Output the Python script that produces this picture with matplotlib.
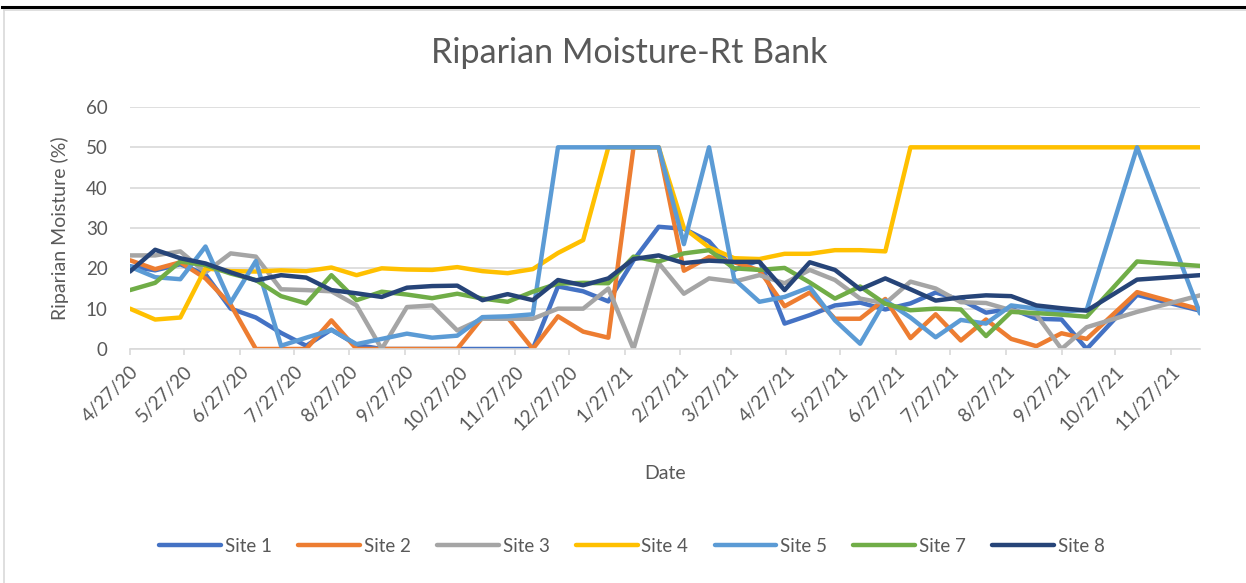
import matplotlib
matplotlib.use("Agg")
import matplotlib.pyplot as plt
from matplotlib.lines import Line2D
import pandas as pd

# sample dates
dates = pd.to_datetime([
    "2020-04-27", "2020-05-11", "2020-05-25", "2020-06-08", "2020-06-22",
    "2020-07-06", "2020-07-20", "2020-08-03", "2020-08-17", "2020-08-31",
    "2020-09-14", "2020-09-28", "2020-10-12", "2020-10-26", "2020-11-09",
    "2020-11-23", "2020-12-07", "2020-12-21", "2021-01-04", "2021-01-18",
    "2021-02-01", "2021-02-15", "2021-03-01", "2021-03-15", "2021-03-29",
    "2021-04-12", "2021-04-26", "2021-05-10", "2021-05-24", "2021-06-07",
    "2021-06-21", "2021-07-05", "2021-07-19", "2021-08-02", "2021-08-16",
    "2021-08-30", "2021-09-13", "2021-09-27", "2021-10-11", "2021-11-08",
    "2021-12-13",
])

site1 = [20.5, 19.5, 21, 18.5, 10, 7.8, 4, 0.8, 4.8, 1, 0, 0, 0, 0, 0, 0, 0,
         15.5, 14.3, 11.8, 22, 30.3, 29.8, 26.7, 19.6, 22, 6.3, 8.4, 10.8, 11.5,
         9.8, 11.3, 14, 12.2, 9, 10, 7.5, 7.3, 0, 13.4, 9.5]
site2 = [22, 19.8, 21.5, 17.5, 11, 0, 0, 0, 7.1, 0, 0, 0, 0, 0, 7.8, 7.8, 0,
         8.1, 4.3, 2.8, 50, 50, 19.4, 22.8, 21.5, 19.5, 10.6, 14, 7.5, 7.5,
         12.4, 2.7, 8.6, 2.1, 7.3, 2.5, 0.7, 3.9, 2.5, 14.1, 9.8]
site3 = [23.2, 23.2, 24.2, 19, 23.7, 22.9, 14.8, 14.6, 14.3, 10.8, 0, 10.4,
         10.8, 4.6, 7.5, 7.5, 7.5, 10, 10, 15, 0, 21.3, 13.7, 17.5, 16.7, 18.3,
         16.3, 19.6, 17.1, 12.5, 11.3, 16.7, 15, 11.6, 11.4, 9.6, 8.5, 0, 5.4,
         9.2, 13.3]
site4 = [10, 7.3, 7.8, 20, 19.3, 19.2, 19.5, 19.3, 20.2, 18.3, 20, 19.7, 19.6,
         20.3, 19.3, 18.8, 19.8, 23.8, 27, 50, 50, 50, 30, 25.2, 22.5, 22.3,
         23.6, 23.6, 24.5, 24.5, 24.2, 50, 50, 50, 50, 50, 50, 50, 50, 50, 50]
site5 = [20.4, 17.8, 17.3, 25.4, 11.5, 21.8, 0.8, 2.8, 4.7, 1.2, 2.5, 3.8,
         2.8, 3.3, 7.9, 8.1, 8.6, 50, 50, 50, 50, 50, 26, 50, 17.3, 11.7, 12.9,
         15.3, 7.1, 1.3, 12, 7.8, 2.9, 7.2, 6.3, 10.8, 10, 9.3, 9.7, 50, 8.8]
site7 = [14.6, 16.4, 21.7, 20.8, 18.7, 17.1, 13.1, 11.3, 18.3, 12.1, 14.2,
         13.5, 12.6, 13.7, 12.5, 11.7, 14.2, 16.2, 16.4, 16.3, 22.9, 21.7,
         23.7, 24.5, 20, 19.6, 20.1, 16.5, 12.5, 15.5, 11.2, 9.6, 10, 9.8, 3.2,
         9.2, 8.9, 8.5, 8, 21.7, 20.6]
site8 = [19.2, 24.6, 22.5, 21.2, 19, 17, 18.3, 17.7, 14.6, 13.8, 12.9, 15.2,
         15.6, 15.7, 12.1, 13.6, 12.1, 17.1, 15.8, 17.5, 22.3, 23.2, 21.3, 21.9,
         21.6, 21.6, 14.6, 21.5, 19.6, 14.8, 17.5, 14.8, 12, 12.8, 13.3, 13.1,
         10.8, 10.1, 9.5, 17.2, 18.3]

series = [site1, site2, site3, site4, site5, site7, site8]
names = ["Site 1", "Site 2", "Site 3", "Site 4", "Site 5", "Site 7", "Site 8"]
colors = ["#4472C4", "#ED7D31", "#A5A5A5", "#FFC000", "#5B9BD5", "#70AD47", "#264478"]

tick_dates = pd.date_range("2020-04-27", periods=20, freq=pd.DateOffset(months=1))
tick_labels = [f"{d.month}/{d.day}/{d:%y}" for d in tick_dates]

plt.rcParams['font.family'] = ['Lato', 'DejaVu Sans']
txt = "#595959"
grid = "#D9D9D9"

fig = plt.figure(figsize=(12.46, 5.83), dpi=100)
ax = fig.add_axes([0.1043, 0.4014, 0.8588, 0.4151])

for vals, name, col in zip(series, names, colors):
    ax.plot(dates, vals, color=col, lw=3.2, label=name,
            solid_joinstyle='round', solid_capstyle='round')

ax.set_xlim(dates[0], dates[-1])
ax.set_ylim(0, 60)
ax.set_yticks(range(0, 61, 10))
ax.set_xticks(tick_dates)
ax.set_xticklabels(tick_labels, rotation=45, ha='right', rotation_mode='anchor')
ax.grid(axis='y', color=grid, lw=1.2)
ax.set_axisbelow(True)
for s in ['top', 'right', 'left']:
    ax.spines[s].set_visible(False)
ax.spines['bottom'].set_color(grid)
ax.spines['bottom'].set_linewidth(1.2)
ax.tick_params(axis='y', length=0, pad=16, labelsize=13.5, labelcolor=txt)
ax.tick_params(axis='x', length=4, width=1.2, color=grid, pad=6,
               labelsize=13.5, labelcolor=txt)

fig.text(629 / 1246, 1 - 53 / 583, "Riparian Moisture-Rt Bank", fontsize=24.5,
         color=txt, ha='center', va='center')
ax.set_xlabel("Date", fontsize=14, color=txt, labelpad=23)
ax.set_ylabel("Riparian Moisture (%)", fontsize=14, color=txt, labelpad=12)

fig.legend(loc='center', bbox_to_anchor=(632 / 1246, 1 - 546 / 583), ncol=7,
           frameon=False, fontsize=13.5, labelcolor=txt, handlelength=3.3,
           handletextpad=0.2, columnspacing=1.4)

# page header rule and chart border
fig.add_artist(Line2D([0.002, 1], [1 - 7 / 583, 1 - 7 / 583], color='black', lw=2.2))
fig.add_artist(Line2D([4 / 1246, 4 / 1246], [0, 1 - 10 / 583], color=grid, lw=1.2))
fig.add_artist(Line2D([4 / 1246, 1], [1 - 10 / 583, 1 - 10 / 583], color=grid, lw=1.2))

fig.savefig("out.png", dpi=100)
